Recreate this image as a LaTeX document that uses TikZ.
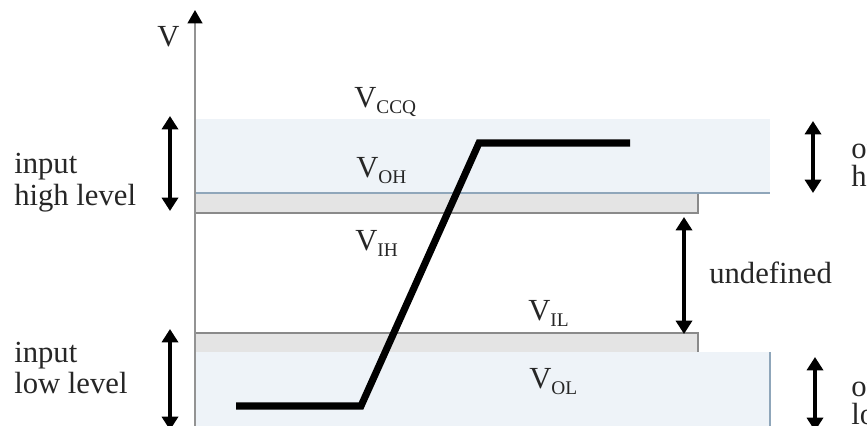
\documentclass[tikz,border=0pt]{standalone}
\usepackage{fontspec}
\setmainfont{Liberation Serif}
\usetikzlibrary{arrows.meta}
\definecolor{bandblue}{HTML}{EEF3F8}
\definecolor{bandline}{HTML}{8FA6BA}
\definecolor{bandgray}{HTML}{E4E4E4}
\definecolor{edgegray}{HTML}{8A8A8A}
\definecolor{txt}{HTML}{262626}
\newcommand{\vsub}[1]{V\raisebox{-4.5pt}{\fontsize{14.5}{15}\selectfont #1}}
\tikzset{
  lbl/.style={inner sep=0pt, anchor=base west, text=txt, font=\fontsize{23}{24}\selectfont},
  dblarrow/.style={line width=2.6pt, {Triangle[width=12pt,length=10pt]}-{Triangle[width=12pt,length=10pt]}},
  curve/.style={line width=5.3pt, line join=miter},
  axisline/.style={line width=1.6pt, draw=gray!85, -{Triangle[width=11pt,length=10pt,fill=black,color=black]}}
}
\begin{document}
\begin{tikzpicture}[x=0.75pt,y=-0.75pt]
\useasboundingbox (0,0) rectangle (867,425);
\clip (0,0) rectangle (867,425);
% bands
\fill[bandblue] (196,119) rectangle (770,193);
\fill[bandgray] (196,194) rectangle (698,213);
\draw[edgegray, line width=1.3pt] (196,213) -- (698,213) -- (698,194);
\draw[bandline, line width=1.5pt] (196,193) -- (770,193);
\fill[bandgray] (196,333) rectangle (698,352);
\draw[edgegray, line width=1.3pt] (196,333) -- (698,333) -- (698,352);
\fill[bandblue] (196,352) rectangle (770,430);
\draw[bandline, line width=1.5pt] (770,352) -- (770,430);
% axis
\coordinate (axbot) at (195,430);
\coordinate (axtop) at (195,10);
\draw[axisline] (axbot) -- (axtop);
% transfer curve
\coordinate (c0) at (236,406);
\coordinate (c1) at (361,406);
\coordinate (c2) at (479,143);
\coordinate (c3) at (630,143);
\draw[curve] (c0) -- (c1) -- (c2) -- (c3);
% arrows
\coordinate (ihT) at (170,116);
\coordinate (ihB) at (170,211);
\draw[dblarrow] (ihT) -- (ihB);
\coordinate (ilT) at (170,329);
\coordinate (ilB) at (170,430);
\draw[dblarrow] (ilT) -- (ilB);
\coordinate (udT) at (684,217);
\coordinate (udB) at (684,334);
\draw[dblarrow] (udT) -- (udB);
\coordinate (ohT) at (813,121);
\coordinate (ohB) at (813,193);
\draw[dblarrow] (ohT) -- (ohB);
\coordinate (olT) at (815,357);
\coordinate (olB) at (815,431);
\draw[dblarrow] (olT) -- (olB);
% labels
\node[lbl] (vaxis) at (157,46) {V};
\node[lbl] (vccq) at (354,107) {\vsub{CCQ}};
\node[lbl] (voh) at (356,177) {\vsub{OH}};
\node[lbl] (vih) at (355,250) {\vsub{IH}};
\node[lbl] (vil) at (528,320) {\vsub{IL}};
\node[lbl] (vol) at (529,388) {\vsub{OL}};
\node[lbl] (undef) at (709,283) {undefined};
\node[lbl] (inh1) at (14,173) {input};
\node[lbl] (inh2) at (14,205) {high level};
\node[lbl] (inl1) at (14,362) {input};
\node[lbl] (inl2) at (14,393) {low level};
\node[lbl] (outh1) at (851,158) {output};
\node[lbl] (outh2) at (851,186) {high level};
\node[lbl] (outl1) at (851,396) {output};
\node[lbl] (outl2) at (851,424) {low level};
\end{tikzpicture}
\end{document}
